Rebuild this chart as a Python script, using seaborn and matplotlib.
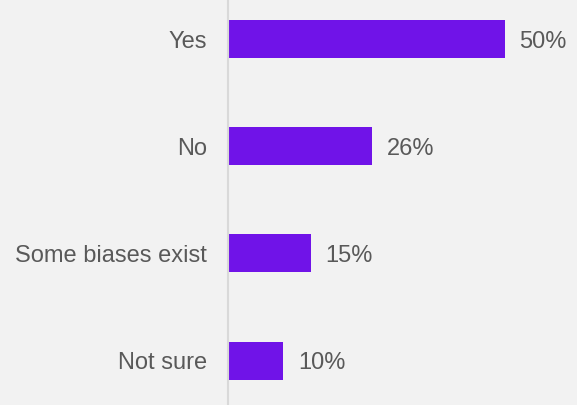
import matplotlib
matplotlib.use("Agg")
import matplotlib.pyplot as plt
import seaborn as sns
import pandas as pd

categories = ["Yes", "No", "Some biases exist", "Not sure"]
values = [50, 26, 15, 10]
value_labels = ["50%", "26%", "15%", "10%"]

bg = "#f2f2f2"
bar_color = "#7013e8"
text_color = "#595959"

sns.set_theme(style="white")
plt.rcParams["font.family"] = ["Liberation Sans", "DejaVu Sans"]

df = pd.DataFrame({"answer": categories, "share": values})

fig = plt.figure(figsize=(5.77, 4.05), dpi=100, facecolor=bg)
ax = fig.add_axes([228 / 577, 0, 1 - 228 / 577, 1])
ax.set_facecolor(bg)

sns.barplot(data=df, x="share", y="answer", orient="h", color=bar_color,
            saturation=1, width=0.355, ax=ax, linewidth=0)

ax.set_xlim(0, 63.0)
ax.set_ylim(3.414, -0.364)

for i, (v, lab) in enumerate(zip(values, value_labels)):
    ax.text(v + 2.6, i, lab, va="center_baseline", ha="left", fontsize=17,
            color=text_color)

ax.set_xlabel("")
ax.set_ylabel("")
ax.set_xticks([])
ax.tick_params(axis="y", length=0, pad=15, labelsize=17, labelcolor=text_color)
for side in ["top", "right", "bottom"]:
    ax.spines[side].set_visible(False)
ax.spines["left"].set_color("#d9d9d9")
ax.spines["left"].set_linewidth(1.5)

fig.savefig("out.png", dpi=100, facecolor=bg)
